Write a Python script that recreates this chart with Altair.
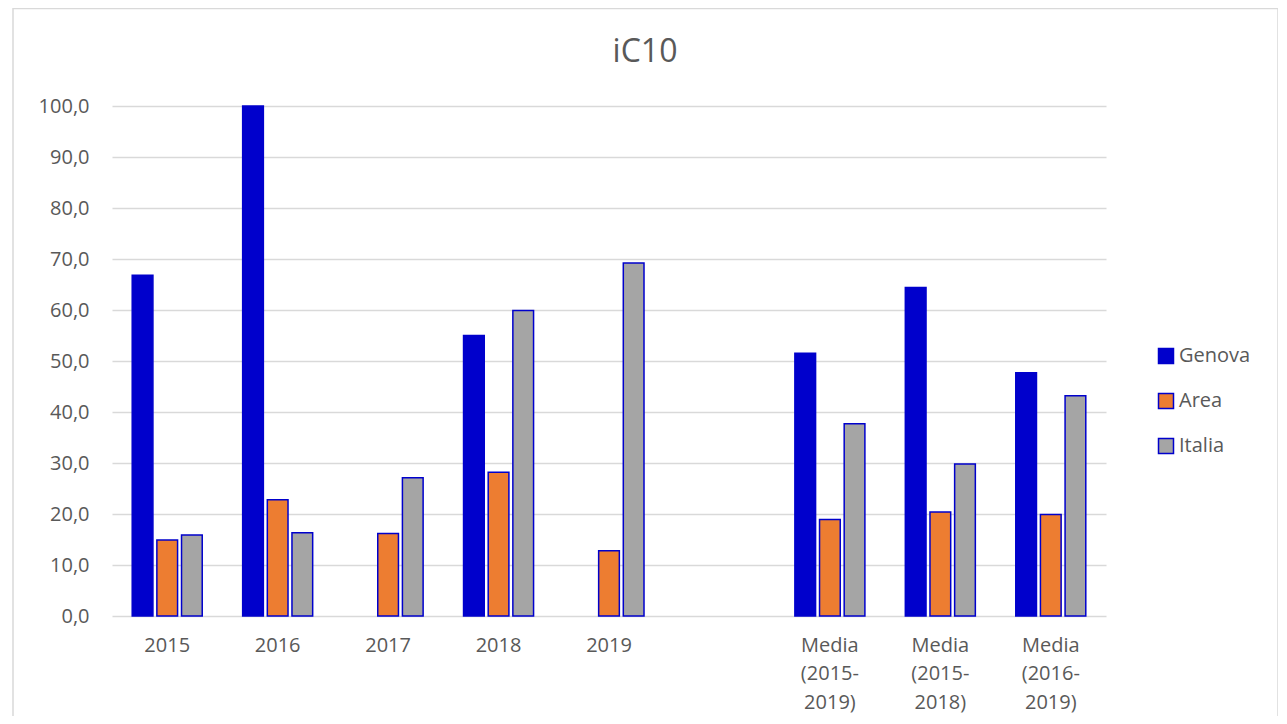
import altair as alt
import pandas as pd

categories = ["2015", "2016", "2017", "2018", "2019", " ",
              "Media (2015-2019)", "Media (2015-2018)", "Media (2016-2019)"]
series = ["Genova", "Area", "Italia"]
colors = ["#0000CC", "#ED7D31", "#A5A5A5"]

genova = [66.8, 100.0, None, 55.0, None, None, 51.5, 64.4, 47.7]
area = [14.9, 22.8, 16.2, 28.2, 12.8, None, 18.9, 20.4, 19.9]
italia = [15.9, 16.3, 27.1, 59.9, 69.2, None, 37.7, 29.8, 43.2]
y_ticks = [0, 10, 20, 30, 40, 50, 60, 70, 80, 90, 100]

rows = []
for name, vals in zip(series, [genova, area, italia]):
    for c, v in zip(categories, vals):
        if v is not None:
            rows.append({"cat": c, "serie": name, "val": v})
df = pd.DataFrame(rows)

FONT = "Open Sans"
TXT = "#595959"

bars = alt.Chart(df).mark_bar(stroke="#0000CC", strokeWidth=1.5).encode(
    x=alt.X("cat:N", sort=categories,
            scale=alt.Scale(domain=categories, paddingInner=0.366, paddingOuter=0.183),
            axis=alt.Axis(title=None, labelAngle=0, domain=False, ticks=False, grid=False,
                          labelFont=FONT, labelFontSize=20, labelColor=TXT,
                          labelPadding=19, labelLineHeight=28.5,
                          labelExpr="indexof(datum.label,'Media')==0 ? ['Media', substring(datum.label,6,12), substring(datum.label,12)] : datum.label")),
    xOffset=alt.XOffset("serie:N", sort=series,
                        scale=alt.Scale(domain=series, paddingInner=0.16, paddingOuter=0)),
    y=alt.Y("val:Q", scale=alt.Scale(domain=[0, 100], nice=False),
            axis=alt.Axis(title=None, values=y_ticks, domain=False, ticks=False,
                          gridColor="#D9D9D9", gridWidth=1.3,
                          labelFont=FONT, labelFontSize=20, labelColor=TXT, labelPadding=23,
                          labelExpr="replace(format(datum.value,'.1f'),'.',',')")),
    color=alt.Color("serie:N", sort=series,
                    scale=alt.Scale(domain=series, range=colors),
                    legend=alt.Legend(title=None, orient="none", legendX=1044, legendY=240,
                                      symbolType="square", symbolSize=225,
                                      symbolStrokeColor="#0000CC", symbolStrokeWidth=1.5,
                                      labelFont=FONT, labelFontSize=20, labelColor=TXT,
                                      labelOffset=3, rowPadding=23, padding=0)),
)

frame = alt.Chart(pd.DataFrame({"a": [0]})).mark_rect(
    fill=None, stroke="#D9D9D9", strokeWidth=1.5
).encode(
    x=alt.value(-99), x2=alt.value(1166), y=alt.value(-97.5), y2=alt.value(700)
)

chart = alt.layer(frame, bars).properties(
    width=994, height=510,
    background="white",
    title=alt.TitleParams("iC10", font=FONT, fontSize=32, fontWeight="normal",
                          color=TXT, anchor="middle", dx=36, offset=-86,
                          baseline="alphabetic"),
    autosize=alt.AutoSizeParams(type="none"),
    padding={"left": 104, "top": 98, "right": 172, "bottom": 100},
).configure_view(stroke=None)

chart.save("out.html", embed_options={"renderer": "svg", "actions": False})
